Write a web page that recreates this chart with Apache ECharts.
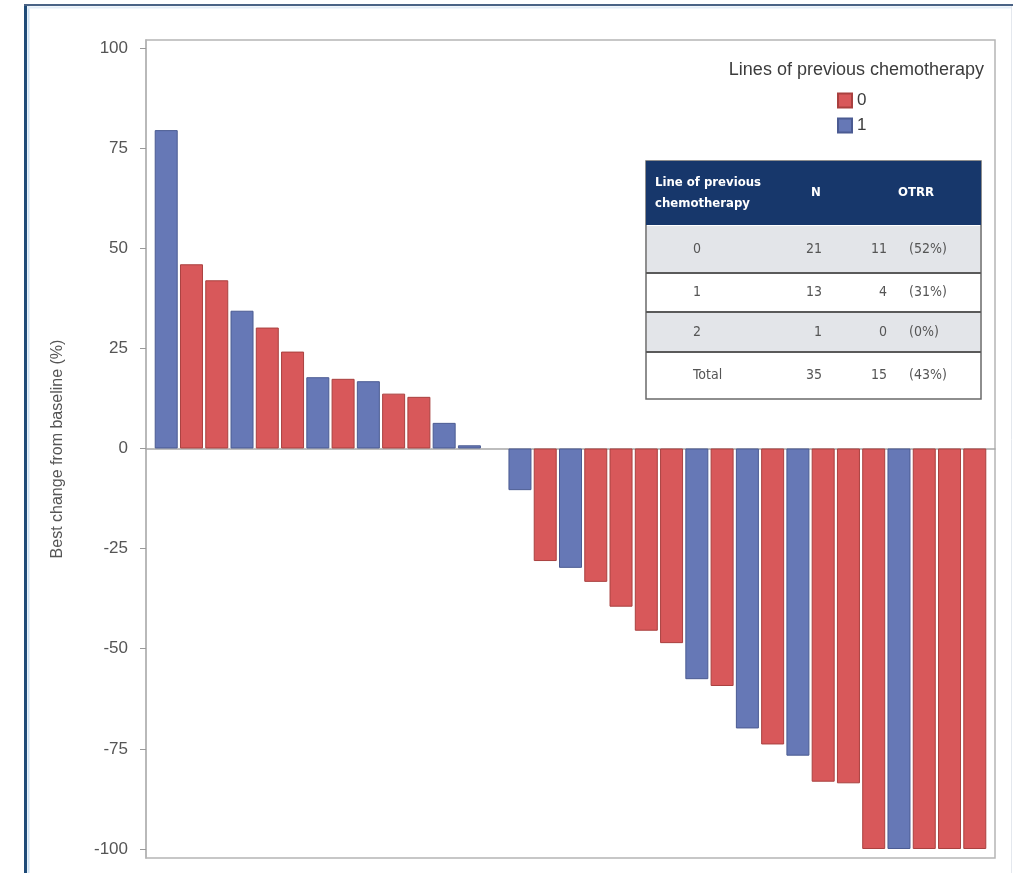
<!DOCTYPE html>
<html>
<head>
<meta charset="utf-8">
<style>
  html, body { margin: 0; padding: 0; background: #fff; }
  #chart { width: 1018px; height: 873px; }
</style>
<script src="https://cdn.jsdelivr.net/npm/echarts@6/dist/echarts.min.js"></script>
</head>
<body>
<div id="chart"></div>
<script>
// ---- Data ----
// previous chemotherapy line of each patient slot ('' = no bar)
const lineGroup = ['1','0','0','1','0','0','1','0','1','0','0','1','1','',
                   '1','0','1','0','0','0','0','1','0','1','0','1','0','0',
                   '0','1','0','0','0'];
// best change from baseline (%)
const bestChange = [79.5, 46, 42, 34.4, 30.2, 24.2, 17.8, 17.4, 16.8, 13.7, 12.9, 6.4, 0.8, null,
                    -10.4, -28.1, -29.8, -33.3, -39.5, -45.5, -48.6, -57.6, -59.3, -69.9, -73.9, -76.7, -83.2, -83.6,
                    -100, -100, -100, -100, -100];
const yTicks = [-100, -75, -50, -25, 0, 25, 50, 75, 100];
const groups = ['0', '1'];

// summary table
const tableHeader = ['Line of previous\nchemotherapy', 'N', 'OTRR'];
const tableLine   = ['0', '1', '2', 'Total'];
const tableN      = ['21', '13', '1', '35'];
const tableResp   = ['11', '4', '0', '15'];
const tablePct    = ['(52%)', '(31%)', '(0%)', '(43%)'];

// ---- Styles ----
const fillColor   = { '0': '#d8585a', '1': '#6678b6' };
const borderColor = { '0': '#a9403f', '1': '#4b5b92' };

function seriesData(g) {
  const out = [];
  bestChange.forEach((v, i) => {
    if (lineGroup[i] === g && v !== null) out.push([i, v]);
  });
  return out;
}

const series = groups.map(g => ({
  name: g,
  type: 'bar',
  data: seriesData(g),
  barWidth: 23,
  barGap: '-100%',
  itemStyle: { color: fillColor[g], borderColor: borderColor[g], borderWidth: 1 },
  emphasis: { disabled: true }
}));

// ---- Table graphics ----
const narrow = '"DejaVu Sans Condensed", "Liberation Sans Narrow", "Liberation Sans", sans-serif';
const tX = 646, tW = 335, tTop = 161, headH = 64;
const rowBounds = [225, 273, 312, 352, 399];
const rowFill = ['#e3e5e9', '#ffffff', '#e3e5e9', '#ffffff'];
const tableEls = [];
tableEls.push({ type: 'rect', shape: { x: tX, y: tTop, width: tW, height: rowBounds[4] - tTop },
  style: { fill: '#fff', stroke: '#6a6a6a', lineWidth: 1.5 }, z: 10 });
tableEls.push({ type: 'rect', shape: { x: tX, y: tTop, width: tW, height: headH },
  style: { fill: '#17376b' }, z: 11 });
for (let r = 0; r < 4; r++) {
  tableEls.push({ type: 'rect',
    shape: { x: tX + 1, y: rowBounds[r] + 1, width: tW - 2, height: rowBounds[r + 1] - rowBounds[r] - 2 },
    style: { fill: rowFill[r] }, z: 11 });
  if (r > 0) {
    tableEls.push({ type: 'line', shape: { x1: tX, y1: rowBounds[r], x2: tX + tW, y2: rowBounds[r] },
      style: { stroke: '#5a5a5a', lineWidth: 2 }, z: 12 });
  }
  const cy = (rowBounds[r] + rowBounds[r + 1]) / 2;
  const ts = { fill: '#555', fontSize: 14, fontFamily: narrow, verticalAlign: 'middle' };
  tableEls.push({ type: 'text', style: Object.assign({ text: tableLine[r], x: 693, y: cy, align: 'left' }, ts), z: 13 });
  tableEls.push({ type: 'text', style: Object.assign({ text: tableN[r], x: 822, y: cy, align: 'right' }, ts), z: 13 });
  tableEls.push({ type: 'text', style: Object.assign({ text: tableResp[r], x: 887, y: cy, align: 'right' }, ts), z: 13 });
  tableEls.push({ type: 'text', style: Object.assign({ text: tablePct[r], x: 909, y: cy, align: 'left' }, ts), z: 13 });
}
const hs = { fill: '#fff', fontSize: 13, fontWeight: 'bold', fontFamily: narrow, verticalAlign: 'middle', lineHeight: 21 };
tableEls.push({ type: 'text', style: Object.assign({ text: tableHeader[0], x: 655, y: 193, align: 'left' }, hs), z: 13 });
tableEls.push({ type: 'text', style: Object.assign({ text: tableHeader[1], x: 816, y: 193, align: 'center' }, hs), z: 13 });
tableEls.push({ type: 'text', style: Object.assign({ text: tableHeader[2], x: 916, y: 193, align: 'center' }, hs), z: 13 });

// page frame decoration
const frameEls = [
  { type: 'line', shape: { x1: 25.5, y1: 4, x2: 25.5, y2: 873 }, style: { stroke: '#1f4b78', lineWidth: 3 } },
  { type: 'line', shape: { x1: 28.5, y1: 6, x2: 28.5, y2: 873 }, style: { stroke: '#cfe3f4', lineWidth: 2 } },
  { type: 'line', shape: { x1: 24, y1: 5, x2: 1013, y2: 5 }, style: { stroke: '#4a6385', lineWidth: 2 } },
  { type: 'line', shape: { x1: 28, y1: 7.5, x2: 1011, y2: 7.5 }, style: { stroke: '#e3eef8', lineWidth: 2 } },
  { type: 'line', shape: { x1: 1011.5, y1: 6, x2: 1011.5, y2: 873 }, style: { stroke: '#e4e8ee', lineWidth: 1 } }
];

const chart = echarts.init(document.getElementById('chart'), null, { renderer: 'canvas' });
chart.setOption({
  animation: false,
  backgroundColor: '#ffffff',
  textStyle: { fontFamily: '"Liberation Sans", Arial, sans-serif' },
  title: {
    text: 'Lines of previous chemotherapy',
    right: 29, top: 56,
    textStyle: { fontSize: 18, fontWeight: 'normal', color: '#3c3c3c', fontFamily: '"Liberation Sans", Arial, sans-serif' }
  },
  legend: {
    data: groups,
    orient: 'vertical',
    left: 832, top: 87,
    itemWidth: 14, itemHeight: 14, itemGap: 8,
    icon: 'rect',
    selectedMode: false,
    textStyle: { fontSize: 17, color: '#3c3c3c' }
  },
  grid: {
    left: 146, right: 23, top: 40, bottom: 15,
    show: true, borderColor: '#b5b5b5', borderWidth: 1.5, backgroundColor: 'transparent'
  },
  xAxis: {
    type: 'value',
    min: -0.8, max: 32.8,
    axisLine: { show: true, onZero: true, lineStyle: { color: '#a8a8a8', width: 1.5 } },
    axisTick: { show: false },
    axisLabel: { show: false },
    splitLine: { show: false }
  },
  yAxis: {
    type: 'value',
    min: -102.25, max: 102,
    name: 'Best change from baseline (%)',
    nameLocation: 'middle',
    nameGap: 80,
    nameTextStyle: { fontSize: 16, color: '#555' },
    axisLine: { show: true, onZero: false, lineStyle: { color: '#b5b5b5', width: 1.5 } },
    axisTick: { show: true, customValues: yTicks, length: 6, lineStyle: { color: '#999' } },
    axisLabel: { customValues: yTicks, fontSize: 17, color: '#555', margin: 18 },
    splitLine: { show: false }
  },
  series: series,
  graphic: [
    { type: 'group', children: frameEls, z: 100 },
    { type: 'group', children: tableEls, z: 50 }
  ]
});
</script>
</body>
</html>
